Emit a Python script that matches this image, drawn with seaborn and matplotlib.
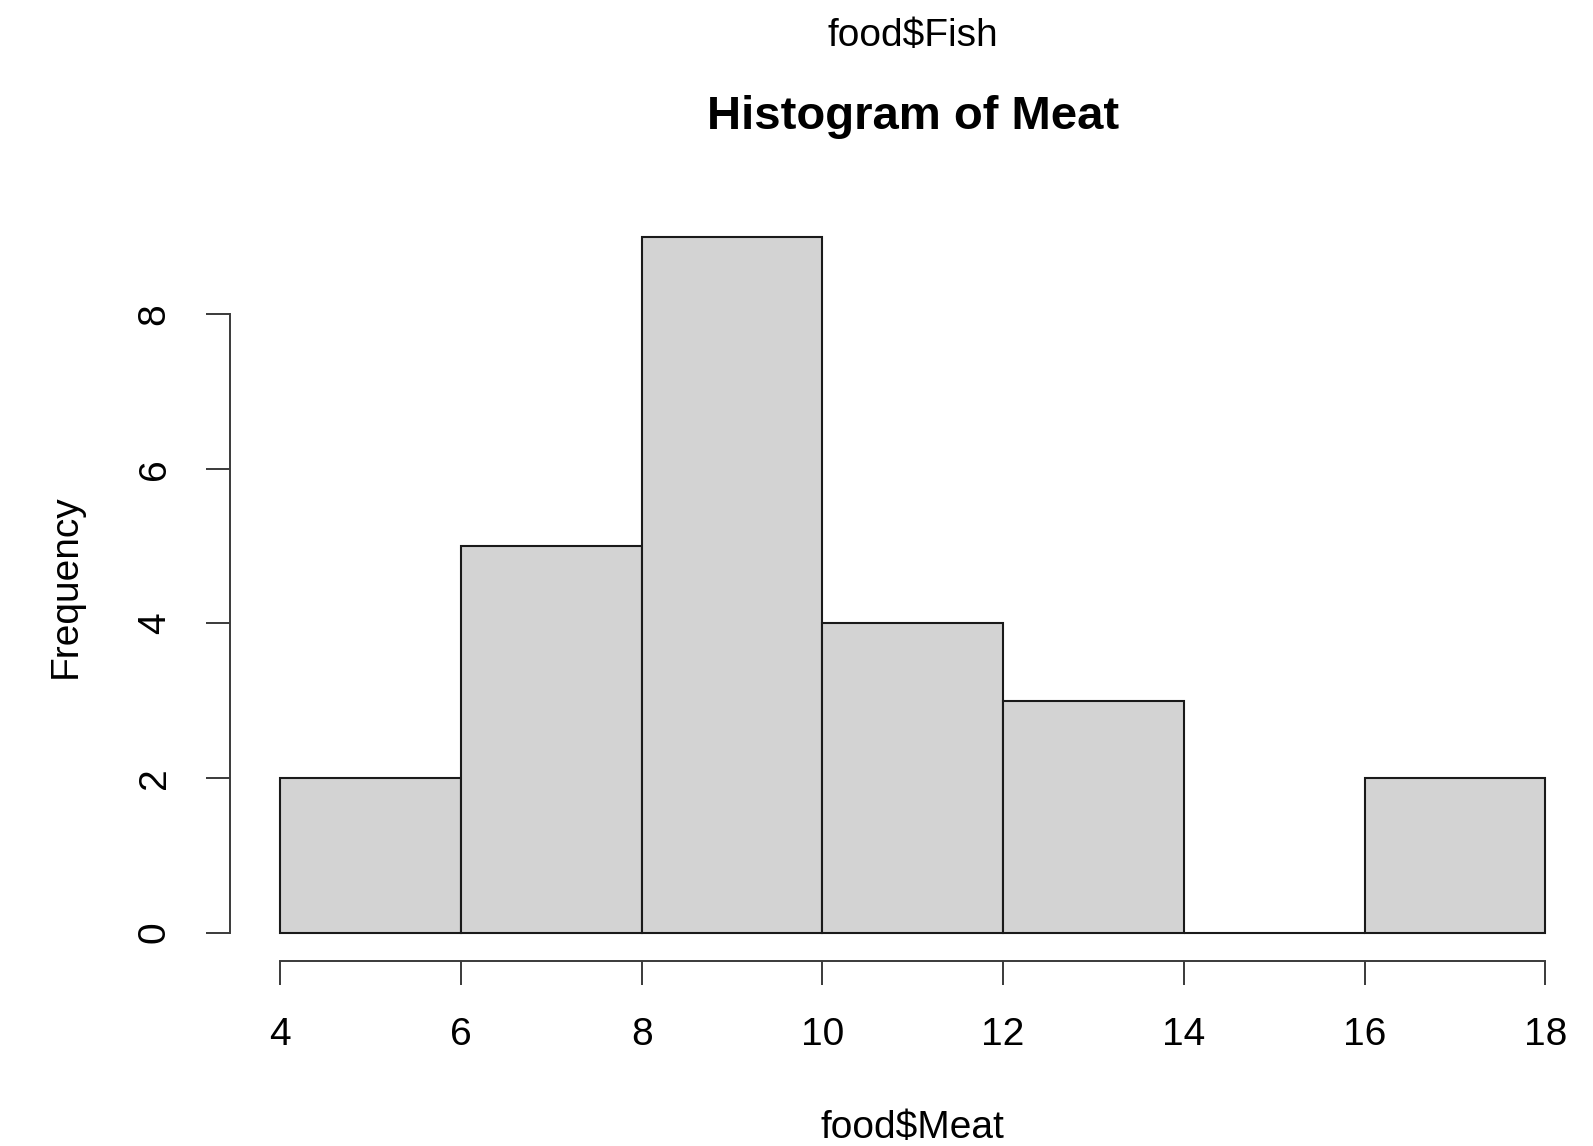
import seaborn as sns
import pandas as pd
import matplotlib as mpl
import matplotlib.pyplot as plt
import numpy as np

# Histogram of food$Meat (counts)
bin_edges = [4, 6, 8, 10, 12, 14, 16, 18]
counts = [2, 5, 9, 4, 3, 0, 2]
y_ticks = [0, 2, 4, 6, 8]
x_ticks = [4, 6, 8, 10, 12, 14, 16, 18]

sns.set_style("white")
mpl.rcParams.update({
    "font.family": ["Liberation Sans", "DejaVu Sans"],
    "font.size": 28,
    "axes.linewidth": 1.4,
    "text.color": "black",
    "xtick.labelcolor": "black",
    "ytick.labelcolor": "black",
})

centers = [(a + b) / 2 for a, b in zip(bin_edges[:-1], bin_edges[1:])]
df = pd.DataFrame({"Meat": centers, "n": counts})

W, H = 1593, 1146
fig = plt.figure(figsize=(W / 100, H / 100), dpi=100)

# plot region as in R (4% extension on both axes)
left, right = 229.6, 1595.9
bottom, top = 960.5, 209.2
ax = fig.add_axes([left / W, 1 - bottom / H, (right - left) / W, (bottom - top) / H])

sns.histplot(data=df, x="Meat", weights="n", bins=bin_edges, ax=ax,
             color="#d3d3d3", edgecolor="#1a1a1a", linewidth=1.5, alpha=1)

ax.set_xlim(3.44, 18.56)
ax.set_ylim(-0.36, 9.36)

for s in ["top", "right"]:
    ax.spines[s].set_visible(False)
ax.spines["left"].set_bounds(0, 8)
ax.spines["bottom"].set_bounds(4, 18)
ax.spines["left"].set_color("#3a3a3a")
ax.spines["bottom"].set_color("#3a3a3a")

ax.set_xticks(x_ticks)
ax.set_xticklabels([str(v) for v in x_ticks])
ax.set_yticks(y_ticks)
ax.set_yticklabels([str(v) for v in y_ticks], rotation=90, va="center")
ax.tick_params(axis="both", direction="out", length=17, width=1.4,
               color="#3a3a3a", labelsize=28, pad=24, left=True, bottom=True)

ax.set_xlabel("")
ax.set_ylabel("")

cx = (left + right) / 2 / W
fig.text(cx, 1 - 35.6 / H, "food$Fish", ha="center", va="center", fontsize=28)
fig.text(cx, 1 - 117 / H, "Histogram of Meat", ha="center", va="center",
         fontsize=34, fontweight="bold")
fig.text(cx, 1 - 1128 / H, "food$Meat", ha="center", va="center", fontsize=28)
fig.text(66 / W, 1 - 586 / H, "Frequency", ha="center", va="center",
         rotation=90, fontsize=28)

fig.savefig("out.png", dpi=100)
